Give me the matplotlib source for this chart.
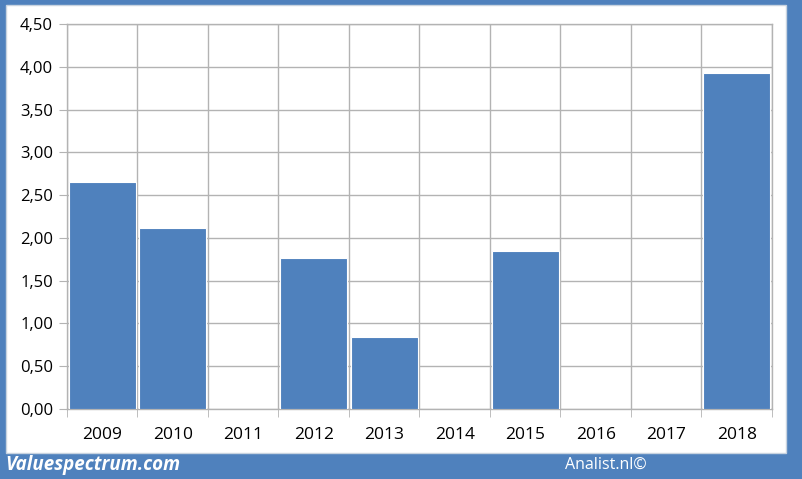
import matplotlib.pyplot as plt
import numpy as np
from matplotlib.patches import Rectangle

years = ['2009', '2010', '2011', '2012', '2013', '2014', '2015', '2016', '2017', '2018']
values = [2.65, 2.11, 0, 1.76, 0.84, 0, 1.85, 0, 0, 3.93]
yticks = [0, 0.5, 1.0, 1.5, 2.0, 2.5, 3.0, 3.5, 4.0, 4.5]

blue = '#4F81BD'
grid = '#B3B3B3'

plt.rcParams['font.family'] = ['Open Sans', 'DejaVu Sans']

fig = plt.figure(figsize=(8.03, 4.79), dpi=100)
fig.patch.set_facecolor(blue)
# white panel behind the chart
fig.patches.append(Rectangle((6 / 803, 26 / 479), 780 / 803, 448 / 479,
                             transform=fig.transFigure, facecolor='white',
                             edgecolor='#C8D3E0', linewidth=1, zorder=-1))

ax = fig.add_axes([67 / 803, 70 / 479, 705 / 803, 385 / 479])
ax.patch.set_alpha(0)
x = np.arange(len(years))
ax.bar(x, values, width=0.95, color=blue, edgecolor='white', linewidth=0.8, zorder=3)

ax.set_xlim(-0.5, len(years) - 0.5)
ax.set_ylim(0, 4.5)
ax.set_yticks(yticks)
ax.set_yticklabels([('%.2f' % v).replace('.', ',') for v in yticks], fontsize=12)
ax.set_xticks(x)
ax.set_xticklabels(years, fontsize=12.5)
ax.tick_params(axis='x', length=0, pad=13)
ax.tick_params(axis='y', length=6, color=grid, pad=4)
ax.set_xticks(np.arange(-0.5, len(years)), minor=True)
ax.tick_params(axis='x', which='minor', length=6, color=grid)

ax.grid(True, axis='y', color=grid, linewidth=1, zorder=0)
ax.grid(True, axis='x', which='minor', color=grid, linewidth=1, zorder=0)
for s in ax.spines.values():
    s.set_color(grid)
    s.set_linewidth(1)
ax.set_axisbelow(True)

fig.text(5 / 803, 14 / 479, 'Valuespectrum.com', color='white', fontsize=13.5,
         fontweight='bold', style='italic', va='center', ha='left')
fig.text(565 / 803, 14 / 479, 'Analist.nl©', color='white', fontsize=11.5,
         va='center', ha='left')

plt.savefig('out.png', dpi=100, facecolor=fig.get_facecolor())
